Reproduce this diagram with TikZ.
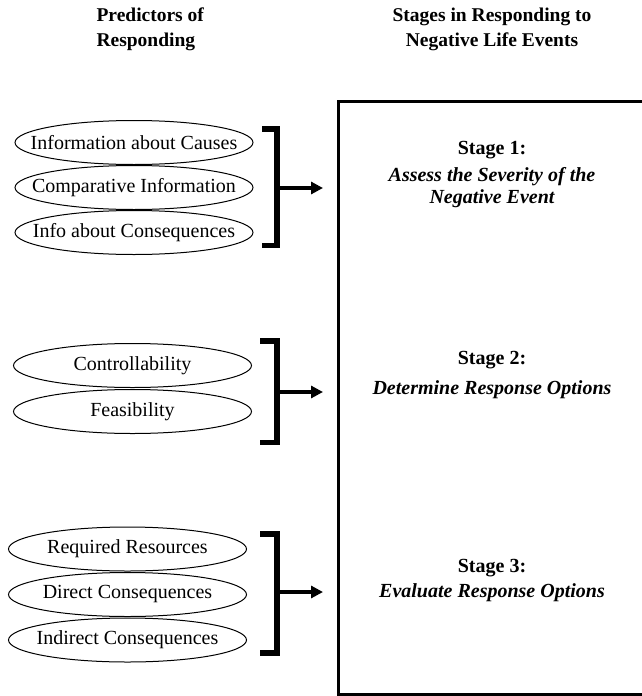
\documentclass[tikz,border=0pt]{standalone}
\usepackage{fontspec}
\setmainfont{Liberation Serif}
\usetikzlibrary{shapes.geometric,arrows.meta}
\begin{document}
\begin{tikzpicture}
		[x=1pt,y=-1pt,
		pred/.style={ellipse,draw,line width=1pt,
			minimum width=238pt,minimum height=44pt,
			inner xsep=-60pt,inner ysep=0pt,
			font=\fontsize{20}{24}\selectfont},
		brace/.style={line width=5.5pt},
		arr/.style={line width=3.5pt,
			-{Triangle[length=12pt,width=12pt]}},
		title/.style={font=\fontsize{19.5}{25}\selectfont\bfseries},
		stage/.style={font=\fontsize{20}{24}\selectfont\bfseries},
		task/.style={align=center,
			font=\fontsize{20}{21.5}\selectfont\bfseries\itshape}]
	\useasboundingbox (0,0) rectangle (642,696);
	\node[title,align=left,anchor=west] (predictors) at (93,29.5) {Predictors of\\Responding};
	\node[title,align=center] (stages) at (492,29.5) {Stages in Responding to\\Negative Life Events};
	\draw[line width=3pt] (645,101.5) -- (338,101.5) -- (338,694) -- (645,694);
	\node[pred] (causes) at (134,142.5) {Information about Causes};
	\node[pred] (compare) at (134,187.5) {Comparative Information};
	\node[pred] (conseq) at (134,232.5) {Info about Consequences};
	\node[pred] (control) at (132.5,365.5) {Controllability};
	\node[pred] (feasible) at (132.5,411.5) {Feasibility};
	\node[pred] (resources) at (127.5,549) {Required Resources};
	\node[pred] (direct) at (127.5,594.5) {Direct Consequences};
	\node[pred] (indirect) at (127.5,640) {Indirect Consequences};
	\draw[brace] (262,129) -- (277,129) -- (277,245.5) -- (262,245.5);
	\draw[brace] (260,341) -- (277,341) -- (277,442.5) -- (260,442.5);
	\draw[brace] (260,534) -- (277,534) -- (277,653) -- (260,653);
	\coordinate (k1) at (279,188);
	\coordinate (k2) at (279,392);
	\coordinate (k3) at (279,592);
	\coordinate (s1) at (323,188);
	\coordinate (s2) at (323,392);
	\coordinate (s3) at (323,592);
	\draw[arr] (k1) -- (s1);
	\draw[arr] (k2) -- (s2);
	\draw[arr] (k3) -- (s3);
	\node[stage] (stage1) at (492,150) {Stage 1:};
	\node[task] (assess) at (492,187.5) {Assess the Severity of the\\Negative Event};
	\node[stage] (stage2) at (492,360) {Stage 2:};
	\node[task] (determine) at (492,390) {Determine Response Options};
	\node[stage] (stage3) at (492,568) {Stage 3:};
	\node[task] (evaluate) at (492,593) {Evaluate Response Options};
\end{tikzpicture}
\end{document}
